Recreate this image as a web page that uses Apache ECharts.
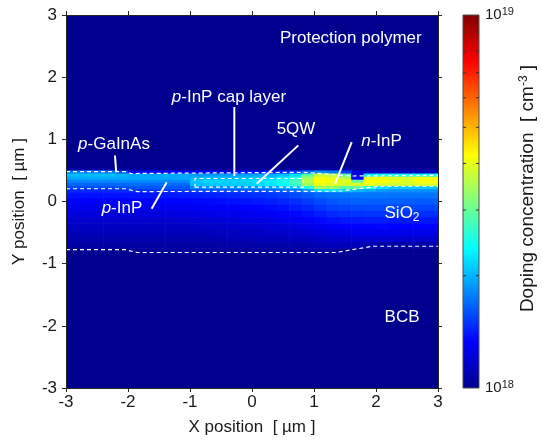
<!DOCTYPE html>
<html>
<head>
<meta charset="utf-8">
<script src="https://cdn.jsdelivr.net/npm/echarts@6/dist/echarts.min.js"></script>
<style>
html, body { margin: 0; padding: 0; background: #fff; }
#chart { width: 542px; height: 444px; }
</style>
</head>
<body>
<div id="chart"></div>
<script>
// Cell edges of the doping map (µm)
const xEdges = [-3.0, -2.8, -2.6, -2.4, -2.2, -2.0, -1.8, -1.6, -1.4, -1.2, -1.0,
                -0.8, -0.6, -0.4, -0.2, 0.0, 0.2, 0.4, 0.6, 0.8, 1.0,
                1.2, 1.4, 1.6, 1.8, 2.0, 2.2, 2.4, 2.6, 2.8, 3.0];
const yEdges = [0.55, 0.50, 0.45, 0.40, 0.35, 0.30, 0.25, 0.20, 0.15, 0.05, -0.05,
                -0.15, -0.25, -0.35, -0.45, -0.55, -0.65, -0.75, -0.85];

// Doping concentration per cell, in units of 1e18 cm^-3 (one row per y band, top to bottom)
const dopingRows = [
  [1.05,1.05,1.05,1.05,1.04,1.02,1.02,1.02,1.02,1.02,1.02,1.02,1.02,1.02,1.02,1.02,1.02,1.03,1.03,1.05,1.06,1.06,1.05,1.03,1.03,1.03,1.03,1.03,1.03,1.03],
  [1.75,1.75,1.75,1.75,1.60,1.30,1.30,1.30,1.30,1.30,1.30,1.30,1.30,1.30,1.35,1.35,1.40,1.45,1.50,1.70,1.85,1.75,1.50,1.20,1.15,1.15,1.15,1.15,1.15,1.15],
  [2.05,2.05,2.05,2.05,2.00,1.95,1.95,1.95,1.95,1.95,1.90,1.90,1.90,1.90,1.92,1.95,1.98,2.05,2.20,2.90,3.70,3.60,2.90,1.25,2.30,2.50,2.50,2.50,2.50,2.50],
  [1.95,1.95,1.95,1.95,1.95,1.95,1.95,1.95,1.95,1.95,2.00,2.05,2.05,2.05,2.08,2.10,2.15,2.30,2.60,3.40,4.10,4.00,3.60,1.35,4.00,4.10,3.90,3.80,4.10,4.10],
  [1.80,1.80,1.80,1.80,1.82,1.82,1.82,1.82,1.82,1.82,2.10,2.15,2.15,2.15,2.18,2.22,2.30,2.50,2.80,3.60,4.20,4.10,4.00,3.00,4.20,4.20,4.00,3.90,4.20,4.20],
  [1.68,1.68,1.68,1.68,1.70,1.70,1.70,1.70,1.70,1.70,2.05,2.10,2.10,2.10,2.12,2.18,2.25,2.40,2.70,3.40,4.00,3.90,3.80,3.90,4.00,3.90,3.80,3.80,3.90,3.90],
  [1.58,1.58,1.58,1.58,1.60,1.62,1.62,1.62,1.62,1.62,1.80,1.85,1.85,1.85,1.86,1.88,1.90,2.00,2.10,2.50,3.40,3.30,2.90,2.90,2.60,2.20,2.10,2.10,2.10,2.10],
  [1.45,1.45,1.45,1.45,1.47,1.50,1.50,1.51,1.52,1.54,1.56,1.58,1.59,1.60,1.61,1.62,1.63,1.65,1.70,1.85,2.20,2.25,2.10,2.00,1.95,1.88,1.85,1.85,1.85,1.85],
  [1.38,1.38,1.38,1.38,1.38,1.39,1.39,1.40,1.40,1.41,1.42,1.43,1.44,1.45,1.46,1.48,1.50,1.53,1.57,1.62,1.67,1.70,1.72,1.73,1.74,1.74,1.73,1.73,1.73,1.73],
  [1.32,1.32,1.32,1.32,1.32,1.33,1.33,1.33,1.34,1.34,1.35,1.36,1.37,1.38,1.39,1.41,1.43,1.45,1.48,1.52,1.57,1.62,1.64,1.65,1.66,1.66,1.65,1.64,1.64,1.64],
  [1.27,1.27,1.27,1.27,1.27,1.27,1.27,1.28,1.28,1.28,1.29,1.30,1.31,1.32,1.33,1.34,1.36,1.38,1.41,1.45,1.50,1.54,1.56,1.57,1.58,1.58,1.57,1.56,1.56,1.56],
  [1.22,1.22,1.22,1.22,1.22,1.22,1.22,1.22,1.23,1.23,1.24,1.25,1.26,1.27,1.28,1.29,1.30,1.32,1.35,1.38,1.42,1.46,1.48,1.49,1.50,1.50,1.49,1.48,1.48,1.48],
  [1.18,1.18,1.18,1.18,1.18,1.18,1.18,1.18,1.18,1.19,1.19,1.20,1.21,1.22,1.23,1.24,1.25,1.27,1.29,1.32,1.35,1.38,1.40,1.41,1.42,1.42,1.41,1.40,1.40,1.40],
  [1.14,1.14,1.14,1.14,1.14,1.14,1.14,1.14,1.14,1.15,1.15,1.16,1.16,1.17,1.18,1.19,1.20,1.21,1.23,1.25,1.28,1.31,1.33,1.34,1.34,1.35,1.34,1.33,1.33,1.33],
  [1.11,1.11,1.11,1.11,1.11,1.11,1.11,1.11,1.11,1.11,1.12,1.12,1.13,1.13,1.14,1.15,1.16,1.17,1.18,1.20,1.22,1.24,1.26,1.27,1.27,1.27,1.27,1.26,1.26,1.26],
  [1.08,1.08,1.08,1.08,1.08,1.08,1.08,1.08,1.08,1.08,1.08,1.09,1.09,1.10,1.10,1.11,1.11,1.12,1.13,1.14,1.16,1.17,1.18,1.19,1.19,1.19,1.19,1.18,1.18,1.18],
  [1.05,1.05,1.05,1.05,1.05,1.05,1.05,1.05,1.05,1.05,1.05,1.05,1.06,1.06,1.06,1.06,1.07,1.07,1.08,1.09,1.10,1.11,1.11,1.10,1.08,1.07,1.06,1.06,1.06,1.06],
  [1.01,1.01,1.01,1.01,1.01,1.03,1.03,1.03,1.03,1.03,1.03,1.03,1.03,1.03,1.03,1.04,1.04,1.04,1.04,1.05,1.05,1.05,1.04,1.02,1.01,1.00,1.00,1.00,1.00,1.00]
];

// Undoped layers filling the rest of the window: [yBottom, yTop, doping (1e18 cm^-3)]
const uniformLayers = [[0.55, 3.0, 1.0], [-3.0, -0.85, 1.0]];

// Layer interfaces (µm)
const gaInAsTop = [[-3, 0.48], [-2.05, 0.48], [-1.95, 0.45], [0.85, 0.47], [1.6, 0.41], [3, 0.42]];
const inpBottom = [[-3, 0.205], [-2.05, 0.205], [-1.85, 0.16], [1.4, 0.165], [2.05, 0.245], [3, 0.245]];
const qwBox = [[-0.92, 0.23], [0.83, 0.23], [0.83, 0.37], [-0.92, 0.37], [-0.92, 0.23]];
const sio2Bottom = [[-3, -0.775], [-2.05, -0.775], [-1.85, -0.82], [1.35, -0.82], [1.95, -0.72], [3, -0.72]];

// Leader lines from the labels to their layers (µm)
const leaderGaInAs = [[-2.21, 0.74], [-2.19, 0.47]];
const leaderCap = [[-0.285, 1.52], [-0.285, 0.41]];
const leaderQW = [[0.747, 0.903], [0.076, 0.285]];
const leaderNInP = [[1.608, 0.956], [1.339, 0.285]];
const leaderPInP = [[-1.376, 0.311], [-1.618, -0.118]];

// Layer names and their anchor points (µm)
const labelTexts = ['Protection polymer', '{i|p}-InP cap layer', '{i|p}-GaInAs', '5QW',
                    '{i|n}-InP', '{i|p}-InP', 'SiO{sub|2}', 'BCB'];
const labelX = [2.737, -0.371, -2.226, 0.71, 2.089, -2.097, 2.42, 2.42];
const labelY = [2.621, 1.677, 0.927, 1.161, 0.968, -0.113, -0.185, -1.855];
const labelAlign = ['right', 'center', 'center', 'center', 'center', 'center', 'center', 'center'];

// Colour bar range and minor ticks (cm^-3)
const colorbarRange = [1e18, 1e19];
const colorbarMinorTicks = [2e18, 3e18, 4e18, 5e18, 6e18, 7e18, 8e18, 9e18];

const FONT = "'Liberation Sans', Arial, Helvetica, sans-serif";
const AXIS_COLOR = '#262626';
const JET = ['#00008F', '#0000FF', '#0080FF', '#00FFFF', '#80FF80', '#FFFF00', '#FF8000', '#FF0000', '#800000'];

const cells = [];
dopingRows.forEach((row, r) => {
  row.forEach((v, c) => {
    cells.push([xEdges[c], xEdges[c + 1], yEdges[r + 1], yEdges[r], Math.log10(v * 1e18)]);
  });
});
uniformLayers.forEach(l => cells.push([-3, 3, l[0], l[1], Math.log10(l[2] * 1e18)]));

const chart = echarts.init(document.getElementById('chart'), null, { renderer: 'canvas' });

function dashed(data) {
  return {
    type: 'line', xAxisIndex: 0, yAxisIndex: 0, data, showSymbol: false, symbol: 'none',
    silent: true, animation: false, z: 4,
    lineStyle: { color: '#ffffff', width: 1.2, type: [4, 3] }
  };
}
function leader(data) {
  return {
    type: 'line', xAxisIndex: 0, yAxisIndex: 0, data, showSymbol: false, symbol: 'none',
    silent: true, animation: false, z: 4,
    lineStyle: { color: '#ffffff', width: 2 }
  };
}

const mainAxisCommon = {
  type: 'value', min: -3, max: 3, interval: 1, gridIndex: 0, z: 6,
  axisLine: { show: true, onZero: false, lineStyle: { color: AXIS_COLOR, width: 1 } },
  axisTick: { show: true, inside: false, length: 4, lineStyle: { color: AXIS_COLOR } },
  splitLine: { show: false },
  axisLabel: { fontFamily: FONT, fontSize: 17, color: '#1a1a1a' },
  nameTextStyle: { fontFamily: FONT, fontSize: 17, color: '#1a1a1a' }
};

const option = {
  backgroundColor: '#ffffff',
  animation: false,
  grid: [
    { left: 66, top: 15, width: 372, height: 373 },
    { left: 463, top: 15, width: 16, height: 373 }
  ],
  xAxis: [
    Object.assign({}, mainAxisCommon, {
      position: 'bottom',
      axisLabel: Object.assign({}, mainAxisCommon.axisLabel, { margin: 6 }),
      name: 'X position  [ µm ]', nameLocation: 'middle', nameGap: 31
    }),
    Object.assign({}, mainAxisCommon, { position: 'top', axisLabel: { show: false } }),
    { type: 'value', gridIndex: 1, min: 0, max: 1, show: false }
  ],
  yAxis: [
    Object.assign({}, mainAxisCommon, {
      position: 'left',
      axisLabel: Object.assign({}, mainAxisCommon.axisLabel, { margin: 9 }),
      name: 'Y position  [ µm ]', nameLocation: 'middle', nameGap: 38, nameRotate: 90
    }),
    Object.assign({}, mainAxisCommon, { position: 'right', axisLabel: { show: false } }),
    {
      type: 'log', logBase: 10, gridIndex: 1, min: colorbarRange[0], max: colorbarRange[1],
      position: 'right',
      axisLine: { show: false }, axisTick: { show: false }, splitLine: { show: false },
      axisLabel: {
        margin: 6, fontFamily: FONT, fontSize: 15, color: '#1a1a1a',
        formatter: v => '10{sup|' + Math.round(Math.log10(v)) + '}',
        rich: { sup: { fontFamily: FONT, fontSize: 11, color: '#1a1a1a', verticalAlign: 'top', padding: [0, 0, 6, 0] } }
      },
      name: 'Doping concentration  [ cm{sup|-3} ]', nameLocation: 'middle', nameGap: 35, nameRotate: 90,
      nameTextStyle: {
        fontFamily: FONT, fontSize: 19, color: '#1a1a1a', padding: [0, 0, 0, 26],
        rich: { sup: { fontFamily: FONT, fontSize: 12, color: '#1a1a1a', verticalAlign: 'top', padding: [0, 0, 8, 0] } }
      }
    }
  ],
  visualMap: {
    type: 'continuous', show: false, seriesIndex: 0, dimension: 4,
    min: 18, max: 19, inRange: { color: JET }
  },
  series: [
    {
      type: 'custom', xAxisIndex: 0, yAxisIndex: 0, data: cells, silent: true, z: 2,
      encode: { x: [0, 1], y: [2, 3] },
      renderItem: (params, api) => {
        const p0 = api.coord([api.value(0), api.value(3)]);
        const p1 = api.coord([api.value(1), api.value(2)]);
        return {
          type: 'rect',
          shape: { x: p0[0], y: p0[1], width: p1[0] - p0[0] + 0.6, height: p1[1] - p0[1] + 0.6 },
          style: { fill: api.visual('color') }
        };
      }
    },
    dashed(gaInAsTop), dashed(inpBottom), dashed(qwBox), dashed(sio2Bottom),
    leader(leaderGaInAs), leader(leaderCap), leader(leaderQW), leader(leaderNInP), leader(leaderPInP),
    {
      type: 'custom', xAxisIndex: 0, yAxisIndex: 0, silent: true, z: 5,
      data: labelX.map((x, i) => [x, labelY[i], i]),
      encode: { x: 0, y: 1 },
      renderItem: (params, api) => {
        const i = api.value(2);
        const p = api.coord([api.value(0), api.value(1)]);
        return {
          type: 'text', x: p[0], y: p[1],
          style: {
            text: labelTexts[i], fill: '#ffffff', fontFamily: FONT, fontSize: 17,
            align: labelAlign[i], verticalAlign: 'middle',
            rich: {
              i: { fontFamily: FONT, fontSize: 17, fontStyle: 'italic', fill: '#ffffff' },
              sub: { fontFamily: FONT, fontSize: 12, fill: '#ffffff', padding: [9, 0, 0, 0] }
            }
          }
        };
      }
    },
    {
      type: 'custom', xAxisIndex: 2, yAxisIndex: 2, silent: true, z: 2,
      data: [[0, 1, colorbarRange[0], colorbarRange[1]]],
      encode: { x: [0, 1], y: [2, 3] },
      renderItem: (params, api) => {
        const p0 = api.coord([api.value(0), api.value(3)]);
        const p1 = api.coord([api.value(1), api.value(2)]);
        return {
          type: 'rect',
          shape: { x: p0[0], y: p0[1], width: p1[0] - p0[0], height: p1[1] - p0[1] },
          style: {
            fill: new echarts.graphic.LinearGradient(0, 1, 0, 0,
              JET.map((c, k) => ({ offset: k / (JET.length - 1), color: c }))),
            stroke: '#4d4d4d', lineWidth: 1
          }
        };
      }
    },
    {
      type: 'custom', xAxisIndex: 2, yAxisIndex: 2, silent: true, z: 3,
      data: colorbarMinorTicks.map(v => [0.5, v]),
      encode: { x: 0, y: 1 },
      renderItem: (params, api) => {
        const l = api.coord([0, api.value(1)]);
        const r = api.coord([1, api.value(1)]);
        const st = { stroke: '#333333', lineWidth: 1 };
        return {
          type: 'group',
          children: [
            { type: 'line', shape: { x1: l[0], y1: l[1], x2: l[0] + 3, y2: l[1] }, style: st },
            { type: 'line', shape: { x1: r[0] - 3, y1: r[1], x2: r[0], y2: r[1] }, style: st }
          ]
        };
      }
    }
  ]
};

chart.setOption(option);
</script>
</body>
</html>
